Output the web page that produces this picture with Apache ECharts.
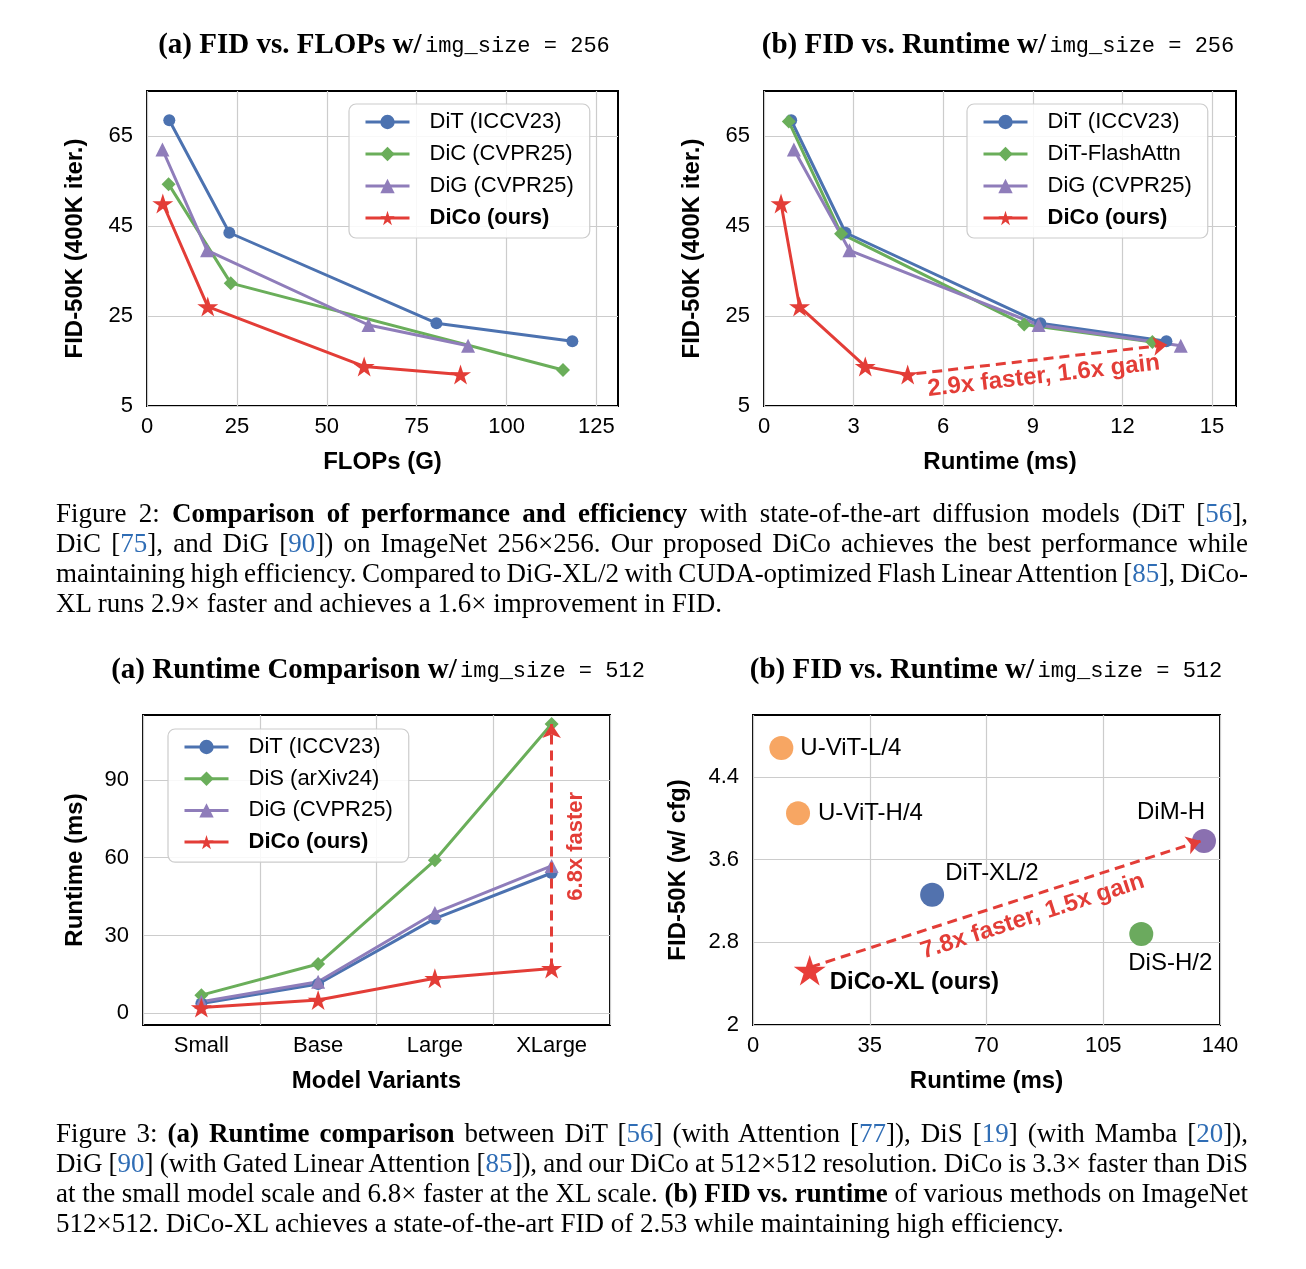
<!DOCTYPE html>
<html>
<head>
<meta charset="utf-8">
<script src="https://cdn.jsdelivr.net/npm/echarts@6/dist/echarts.min.js"></script>
<style>
html,body{margin:0;padding:0;background:#fff;}
#wrap{position:relative;width:1306px;height:1269px;overflow:hidden;}
#chart{position:absolute;left:0;top:0;width:1306px;height:1269px;}
.cap{position:absolute;left:56px;width:1192px;font-family:"Liberation Serif","Times New Roman",serif;font-size:27px;line-height:30px;color:#000;}
.cap div{height:30px;white-space:nowrap;}
.cap div span.ln{display:inline-block;white-space:nowrap;}
.ref{color:#2f6db5;}
</style>
</head>
<body>
<div id="wrap">
<div id="chart"></div>
<div class="cap" style="top:498px;">
<div class="j"><span class="ln">Figure 2: <b>Comparison of performance and efficiency</b> with state-of-the-art diffusion models (DiT [<span class="ref">56</span>],</span></div>
<div class="j"><span class="ln">DiC [<span class="ref">75</span>], and DiG [<span class="ref">90</span>]) on ImageNet 256×256. Our proposed DiCo achieves the best performance while</span></div>
<div class="j"><span class="ln">maintaining high efficiency. Compared to DiG-XL/2 with CUDA-optimized Flash Linear Attention [<span class="ref">85</span>], DiCo-</span></div>
<div><span class="ln">XL runs 2.9× faster and achieves a 1.6× improvement in FID.</span></div>
</div>
<div class="cap" style="top:1118px;">
<div class="j"><span class="ln">Figure 3: <b>(a) Runtime comparison</b> between DiT [<span class="ref">56</span>] (with Attention [<span class="ref">77</span>]), DiS [<span class="ref">19</span>] (with Mamba [<span class="ref">20</span>]),</span></div>
<div class="j"><span class="ln">DiG [<span class="ref">90</span>] (with Gated Linear Attention [<span class="ref">85</span>]), and our DiCo at 512×512 resolution. DiCo is 3.3× faster than DiS</span></div>
<div class="j"><span class="ln">at the small model scale and 6.8× faster at the XL scale. <b>(b) FID vs. runtime</b> of various methods on ImageNet</span></div>
<div><span class="ln">512×512. DiCo-XL achieves a state-of-the-art FID of 2.53 while maintaining high efficiency.</span></div>
</div>
</div>
<script>
// justify caption lines to exactly 1192px via word spacing
document.querySelectorAll('.cap div.j span.ln').forEach(function (el) {
  const w = el.getBoundingClientRect().width;
  const spaces = (el.textContent.match(/ /g) || []).length;
  if (spaces > 0) el.style.wordSpacing = ((1192 - w) / spaces) + 'px';
});

// ---------- DATA ----------
// (a) FID vs FLOPs, img_size 256
const flopsDiT  = [6.2, 22.9, 80.5, 118.3];
const fidDiT    = [68.5, 43.5, 23.4, 19.4];
const flopsDiC  = [6.0, 23.3, 115.7];
const fidDiC    = [54.3, 32.3, 13.0];
const flopsDiG  = [4.3, 16.7, 61.6, 89.3];
const fidDiG    = [62.0, 39.6, 23.0, 18.4];
const flopsDiCo = [4.4, 16.9, 60.4, 87.2];
const fidDiCo   = [50.0, 27.1, 13.8, 12.0];
const flopsTicks = [0, 25, 50, 75, 100, 125];
const fidTicks   = [5, 25, 45, 65];

// (b) FID vs Runtime, img_size 256
const rtDiT       = [0.91, 2.73, 9.25, 13.47];
const rtDiTFlash  = [0.83, 2.58, 8.71, 13.0];
const fidDiTFlash = [68.2, 43.3, 23.1, 19.2];
const rtDiG       = [1.0, 2.86, 9.19, 13.95];
const rtDiCo      = [0.57, 1.19, 3.39, 4.81];
const rt256Ticks  = [0, 3, 6, 9, 12, 15];
const gainArrow256 = [[5.1, 12.2], [13.5, 18.6]];
const gainText256  = '2.9x faster, 1.6x gain';

// (a) Runtime comparison, img_size 512
const variants   = ['Small', 'Base', 'Large', 'XLarge'];
const rt512DiT   = [3.8, 11.3, 36.5, 54.1];
const rt512DiS   = [7.0, 19.0, 59.0, 111.5];
const rt512DiG   = [4.5, 12.2, 38.7, 56.8];
const rt512DiCo  = [2.2, 5.1, 13.5, 17.3];
const rt512Ticks = [0, 30, 60, 90];
const speedArrow512 = [['XLarge', 17.3], ['XLarge', 111.5]];
const speedText512  = '6.8x faster';

// (b) FID vs Runtime, img_size 512
const methods512 = ['U-ViT-L/4', 'U-ViT-H/4', 'DiT-XL/2', 'DiS-H/2', 'DiM-H', 'DiCo-XL (ours)'];
const runtime512 = [8.5, 13.5, 53.7, 116.4, 135.2, 17.0];
const fid512     = [4.68, 4.05, 3.26, 2.88, 3.78, 2.53];
const rtScatterTicks = [0, 35, 70, 105, 140];
const fid512Ticks    = [2, 2.8, 3.6, 4.4];
const gainArrow512 = [[17.2, 2.56], [134.2, 3.78]];
const gainText512  = '7.8x faster, 1.5x gain';

// ---------- STYLE ----------
const SANS = '"Liberation Sans", Arial, Helvetica, sans-serif';
const BLUE = '#4C72B0', GREEN = '#6AAE5A', PURPLE = '#8F7DBA', RED = '#E33D37';
const STAR = 'path://M0,-10 L2.245,-3.09 L9.511,-3.09 L3.633,1.18 L5.878,8.09 L0,3.82 L-5.878,8.09 L-3.633,1.18 L-9.511,-3.09 L-2.245,-3.09 Z';
const zip = (a, b) => a.map((v, i) => [v, b[i]]);

const pointStyle = {
  'U-ViT-L/4':      {color: '#F7A663', symbolSize: 24, label: {position: 'right', distance: 7}},
  'U-ViT-H/4':      {color: '#F7A663', symbolSize: 24, label: {position: 'right', distance: 8}},
  'DiT-XL/2':       {color: '#5272AE', symbolSize: 24, label: {position: 'right', distance: 1, offset: [0, -21]}},
  'DiS-H/2':        {color: '#6BAA5E', symbolSize: 24, label: {position: 'bottom', distance: 5, offset: [29, 0]}},
  'DiM-H':          {color: '#8A70B0', symbolSize: 24, label: {position: 'top', distance: 5, offset: [-33, 0]}},
  'DiCo-XL (ours)': {color: '#E83E3A', symbolSize: 32, symbol: STAR, label: {position: 'right', distance: 4, offset: [0, 12], fontWeight: 'bold'}}
};

function valueAxis(gi, min, max, ticks, name, nameGap, isY) {
  return {
    type: 'value', gridIndex: gi, min: min, max: max,
    name: name, nameLocation: 'middle', nameGap: nameGap,
    nameTextStyle: {fontFamily: SANS, fontSize: 24, fontWeight: 'bold', color: '#000'},
    axisLine: {show: false}, axisTick: {show: false, customValues: ticks},
    axisLabel: {customValues: ticks, fontFamily: SANS, fontSize: 22, color: '#000', margin: isY ? 14 : 10,
                formatter: v => String(v)},
    splitLine: {show: true, lineStyle: {color: '#cccccc', width: 1.2}}
  };
}

function lineSeries(name, data, symbol, size, color, xi, yi, extra) {
  return Object.assign({
    type: 'line', name: name, data: data, xAxisIndex: xi, yAxisIndex: yi,
    symbol: symbol, symbolSize: size, symbolKeepAspect: true,
    lineStyle: {width: 3, color: color}, itemStyle: {color: color},
    emphasis: {disabled: true}, silent: true
  }, extra || {});
}

function arrowMark(p0, p1, text, pos, dist, fs, pad) {
  return {
    silent: true, symbol: ['none', 'arrow'], symbolSize: 14,
    lineStyle: {color: RED, width: 3, type: [10, 6]},
    label: {show: true, position: pos, formatter: text, color: RED, fontWeight: 'bold',
            fontSize: fs, fontFamily: SANS, distance: dist, padding: pad || 0},
    emphasis: {disabled: true},
    data: [[{coord: p0}, {coord: p1}]]
  };
}

function legendBox(left, top, names, gap) {
  return {
    left: left, top: top, orient: 'vertical', selectedMode: false,
    itemWidth: 44, itemHeight: 18, itemGap: gap,
    padding: [6, 16, 8, 15],
    lineStyle: {width: 3},
    backgroundColor: 'rgba(255,255,255,0.85)', borderColor: '#cccccc', borderWidth: 1.2, borderRadius: 7,
    textStyle: {fontFamily: SANS, fontSize: 22, color: '#000', lineHeight: 24, padding: [0, 0, 0, 15]},
    data: names.map(n => n === 'DiCo (ours)' ? {name: n, textStyle: {fontWeight: 'bold'}} : {name: n})
  };
}

const gridBox = {show: true, borderColor: '#000', borderWidth: 2, backgroundColor: '#fff'};

const titleRich = {
  t: {fontFamily: '"Liberation Serif","Times New Roman",serif', fontWeight: 'bold', fontSize: 29, color: '#000'},
  m: {fontFamily: '"Liberation Mono","Courier New",monospace', fontSize: 22, color: '#444'}
};
function titleText(x, y, a, b) {
  return {type: 'text', x: x, y: y, silent: true,
    style: {text: '{t|' + a + '} {m|' + b + '}', rich: titleRich, align: 'center', verticalAlign: 'middle'}};
}

const option = {
  animation: false,
  backgroundColor: '#fff',
  graphic: [
    titleText(384, 46, '(a) FID vs. FLOPs w/', 'img_size = 256'),
    titleText(998, 46, '(b) FID vs. Runtime w/', 'img_size = 256'),
    titleText(378, 671, '(a) Runtime Comparison w/', 'img_size = 512'),
    titleText(986, 671, '(b) FID vs. Runtime w/', 'img_size = 512')
  ],
  grid: [
    Object.assign({left: 147, top: 91, width: 471, height: 315}, gridBox),
    Object.assign({left: 764, top: 91, width: 472, height: 315}, gridBox),
    Object.assign({left: 143, top: 715, width: 467, height: 310}, gridBox),
    Object.assign({left: 753, top: 715, width: 467, height: 310}, gridBox)
  ],
  legend: [
    legendBox(349, 104, ['DiT (ICCV23)', 'DiC (CVPR25)', 'DiG (CVPR25)', 'DiCo (ours)'], 8),
    legendBox(967, 104, ['DiT (ICCV23)', 'DiT-FlashAttn', 'DiG (CVPR25)', 'DiCo (ours)'], 8),
    legendBox(168, 729, ['DiT (ICCV23)', 'DiS (arXiv24)', 'DiG (CVPR25)', 'DiCo (ours)'], 7.7)
  ],
  xAxis: [
    valueAxis(0, 0, 131, flopsTicks, 'FLOPs (G)', 44, false),
    valueAxis(1, 0, 15.8, rt256Ticks, 'Runtime (ms)', 44, false),
    {
      type: 'category', gridIndex: 2, data: variants, boundaryGap: true,
      name: 'Model Variants', nameLocation: 'middle', nameGap: 44,
      nameTextStyle: {fontFamily: SANS, fontSize: 24, fontWeight: 'bold', color: '#000'},
      axisLine: {show: false}, axisTick: {show: false},
      axisLabel: {fontFamily: SANS, fontSize: 22, color: '#000', margin: 10, interval: 0},
      splitLine: {show: true, interval: 0, lineStyle: {color: '#cccccc', width: 1.2}}
    },
    valueAxis(3, 0, 140, rtScatterTicks, 'Runtime (ms)', 44, false)
  ],
  yAxis: [
    valueAxis(0, 5, 75, fidTicks, 'FID-50K (400K iter.)', 60, true),
    valueAxis(1, 5, 75, fidTicks, 'FID-50K (400K iter.)', 60, true),
    valueAxis(2, -4.5, 115, rt512Ticks, 'Runtime (ms)', 56, true),
    valueAxis(3, 2, 5, fid512Ticks, 'FID-50K (w/ cfg)', 63, true)
  ],
  series: [
    // panel 1
    lineSeries('DiT (ICCV23)', zip(flopsDiT, fidDiT), 'circle', 12, BLUE, 0, 0),
    lineSeries('DiC (CVPR25)', zip(flopsDiC, fidDiC), 'diamond', 14, GREEN, 0, 0),
    lineSeries('DiG (CVPR25)', zip(flopsDiG, fidDiG), 'triangle', 14, PURPLE, 0, 0),
    lineSeries('DiCo (ours)', zip(flopsDiCo, fidDiCo), STAR, 21, RED, 0, 0),
    // panel 2
    lineSeries('DiT (ICCV23)', zip(rtDiT, fidDiT), 'circle', 12, BLUE, 1, 1),
    lineSeries('DiT-FlashAttn', zip(rtDiTFlash, fidDiTFlash), 'diamond', 14, GREEN, 1, 1),
    lineSeries('DiG (CVPR25)', zip(rtDiG, fidDiG), 'triangle', 14, PURPLE, 1, 1),
    lineSeries('DiCo (ours)', zip(rtDiCo, fidDiCo), STAR, 21, RED, 1, 1,
      {markLine: arrowMark(gainArrow256[0], gainArrow256[1], gainText256, 'insideMiddleBottom', 5, 24)}),
    // panel 3
    lineSeries('DiT (ICCV23)', rt512DiT, 'circle', 12, BLUE, 2, 2),
    lineSeries('DiS (arXiv24)', rt512DiS, 'diamond', 14, GREEN, 2, 2),
    lineSeries('DiG (CVPR25)', rt512DiG, 'triangle', 14, PURPLE, 2, 2),
    lineSeries('DiCo (ours)', rt512DiCo, STAR, 21, RED, 2, 2,
      {markLine: arrowMark(speedArrow512[0], speedArrow512[1], speedText512, 'insideMiddleBottom', 13, 22)}),
    // panel 4
    {
      type: 'scatter', name: 'methods512', xAxisIndex: 3, yAxisIndex: 3, silent: true,
      emphasis: {disabled: true}, symbolKeepAspect: true,
      data: methods512.map((m, i) => {
        const s = pointStyle[m];
        return {
          name: m, value: [runtime512[i], fid512[i]],
          symbol: s.symbol || 'circle', symbolSize: s.symbolSize,
          itemStyle: {color: s.color, opacity: 1},
          label: Object.assign({show: true, formatter: '{b}', fontFamily: SANS, fontSize: 24, color: '#000'}, s.label)
        };
      }),
      markLine: arrowMark(gainArrow512[0], gainArrow512[1], gainText512, 'insideMiddleBottom', 8, 24, [0, 0, 0, 44])
    }
  ]
};

const chart = echarts.init(document.getElementById('chart'), null, {renderer: 'canvas'});
chart.setOption(option);
</script>
</body>
</html>
